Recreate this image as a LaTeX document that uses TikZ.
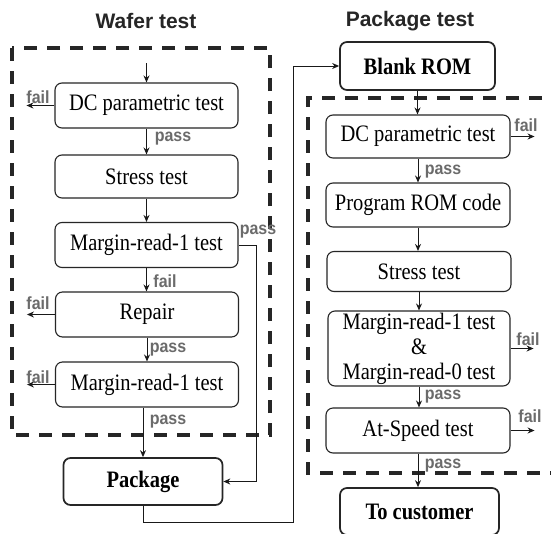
\documentclass[tikz,border=0pt]{standalone}
\usepackage{graphicx}
\usepackage{fontspec}
\setmainfont{Liberation Serif}
\setsansfont{Liberation Sans}
\usetikzlibrary{arrows.meta}
\newcommand\vs[1]{\scalebox{1}[1.15]{#1}}
\newcommand\vl[1]{\scalebox{1}[1.1]{#1}}
\begin{document}
\begin{tikzpicture}[x=1pt,y=-1pt,
  box/.style={draw=black!85, line width=1.1pt, rounded corners=7pt, minimum width=183pt, minimum height=45pt, inner sep=0pt, align=center, font=\fontsize{20.5}{25}\selectfont},
  bbox/.style={box, line width=1.7pt, font=\fontsize{20.5}{25}\selectfont\bfseries},
  lbl/.style={font=\sffamily\bfseries\fontsize{16}{18}\selectfont, text=black!58, inner sep=0pt},
  ttl/.style={font=\sffamily\bfseries\fontsize{21}{24}\selectfont, text=black!85, inner sep=0pt},
  arr/.style={-{Stealth[length=7pt,width=6pt]}, line width=1pt, draw=black!90},
  dashbox/.style={line width=3.5pt, dash pattern=on 13pt off 10pt, draw=black!85}]
\useasboundingbox (0,0) rectangle (551,533);
\fill[white] (0,0) rectangle (551,533);

% titles
\node[ttl] (t1) at (146,21) {Wafer test};
\node[ttl] (t2) at (410,21) {Package test};

% dashed regions
\draw[dashbox] (12,48) rectangle (270,435);
\draw[dashbox] (565,98) -- (308,98) -- (308,473) -- (565,473);

% left column
\node[box] (dc1) at (146.5,105.5) {\vs{DC parametric test}};
\node[box, minimum height=43pt] (st1) at (146.5,176.5) {\vs{Stress test}};
\node[box] (mr1) at (146.5,245) {\vs{Margin-read-1 test}};
\node[box] (rep) at (147,314.5) {\vs{Repair}};
\node[box] (mr1b) at (147,384.5) {\vs{Margin-read-1 test}};
\node[bbox, minimum width=159pt, minimum height=47pt] (pkg) at (143,481.5) {\vs{Package}};

% right column
\node[bbox, minimum width=155pt, minimum height=48pt] (blank) at (417.5,66) {\vs{Blank ROM}};
\node[box, minimum width=184pt, minimum height=43pt] (dc2) at (418,136.5) {\vs{DC parametric test}};
\node[box, minimum width=184pt, minimum height=44pt] (prog) at (418,205) {\vs{Program ROM code}};
\node[box, minimum width=184pt, minimum height=40pt] (st2) at (419,271.5) {\vs{Stress test}};
\node[box, minimum width=182pt, minimum height=75pt] (mr2) at (419,348.5) {\vs{Margin-read-1 test}\\\vs{\&}\\\vs{Margin-read-0 test}};
\node[box, minimum width=184pt, minimum height=45pt] (at) at (418,430.5) {\vs{At-Speed test}};
\node[bbox, minimum width=159pt, minimum height=47pt] (cust) at (419.5,511.5) {\vs{To customer}};

% left connectors
\coordinate (in) at (146.5,63);
\draw[arr] (in) -- (dc1.north);
\draw[arr] (dc1.west) -- ++(-28,0) coordinate (f1);
\node[lbl] (lf1) at (38,97) {\vl{fail}};
\draw[arr] (dc1.south) -- (st1.north);
\node[lbl] (lp1) at (173,139) {\vl{pass}};
\draw[arr] (st1.south) -- (mr1.north);
\draw[arr] (mr1.south) -- (mr1.south |- rep.north);
\node[lbl] (lf2) at (165,281) {\vl{fail}};
\draw[arr] (mr1.east) -- ++(18,0) |- (pkg.east);
\node[lbl] (lp2) at (258,232) {\vl{pass}};
\draw[arr] (rep.west) -- ++(-28,0) coordinate (f2);
\node[lbl] (lf3) at (38,303) {\vl{fail}};
\draw[arr] (rep.south) -- (mr1b.north);
\node[lbl] (lp3) at (168,350) {\vl{pass}};
\draw[arr] (mr1b.west) -- ++(-28,0) coordinate (f3);
\node[lbl] (lf4) at (38,377) {\vl{fail}};
\draw[arr] (mr1b.south -| pkg.north) -- (pkg.north);
\node[lbl] (lp4) at (168,422) {\vl{pass}};

% package to blank ROM
\coordinate (c1) at (293,522);
\draw[arr] (pkg.south) |- (c1) |- (blank.west);

% right connectors
\draw[arr] (blank.south) -- (blank.south |- dc2.north);
\draw[arr] (dc2.east) -- ++(24,0) coordinate (f5);
\node[lbl] (lf5) at (526,125) {\vl{fail}};
\draw[arr] (dc2.south) -- (prog.north);
\node[lbl] (lp5) at (443,172) {\vl{pass}};
\draw[arr] (prog.south) -- (prog.south |- st2.north);
\draw[arr] (st2.south) -- (mr2.north);
\draw[arr] (mr2.east) -- ++(23,0) coordinate (f6);
\node[lbl] (lf6) at (528,339) {\vl{fail}};
\draw[arr] (mr2.south) -- (mr2.south |- at.north);
\node[lbl] (lp6) at (443,397) {\vl{pass}};
\draw[arr] (at.east) -- ++(24,0) coordinate (f7);
\node[lbl] (lf7) at (530,416) {\vl{fail}};
\draw[arr] (at.south) -- (at.south |- cust.north);
\node[lbl] (lp7) at (443,466) {\vl{pass}};
\end{tikzpicture}
\end{document}
